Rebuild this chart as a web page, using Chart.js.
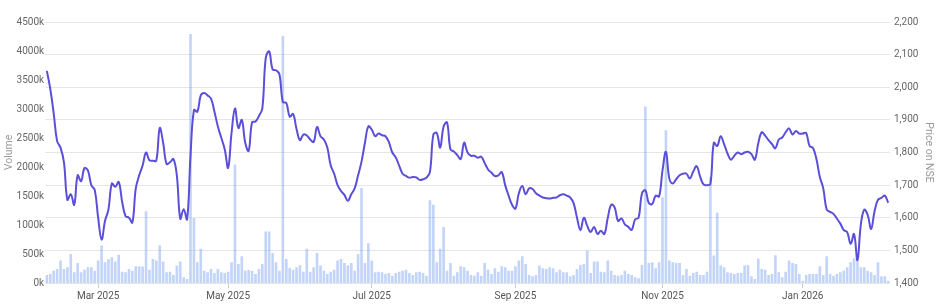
<!DOCTYPE html>
<html lang="en">
<head>
    <meta charset="UTF-8">
    <title>Price and Volume</title>
    <script src="https://cdn.jsdelivr.net/npm/chart.js"></script>
    <style>
        * {
            box-sizing: border-box;
            margin: 0;
            padding: 0;
        }

        body {
            background: #ffffff;
            width: 940px;
            height: 306px;
            overflow: hidden;
        }
    </style>
</head>
<body>

    <canvas id="grafico" width="940" height="306"></canvas>

    <script>
        // trading days: weekdays from start to end, minus exchange holidays, plus special sessions
        const startDate = '2025-02-07';
        const endDate = '2026-02-06';
        const holidays = ['2025-02-26', '2025-03-14', '2025-03-31', '2025-04-10', '2025-04-14', '2025-04-18',
            '2025-05-01', '2025-08-15', '2025-08-27', '2025-10-02', '2025-10-22', '2025-11-05',
            '2025-12-25', '2026-01-15', '2026-01-26'];
        const specialSessions = ['2026-02-01'];

        // months that get a label on the x axis
        const labelMonths = [0, 2, 4, 6, 8, 10];
        const monthNames = ['Jan', 'Feb', 'Mar', 'Apr', 'May', 'Jun', 'Jul', 'Aug', 'Sep', 'Oct', 'Nov', 'Dec'];

        // closing price (NSE), one per trading day
        const price = [
            2050, 1995, 1920, 1835, 1815, 1770, 1655, 1672, 1640, 1730,
            1712, 1752, 1745, 1700, 1685, 1600, 1533, 1590, 1625, 1705,
            1695, 1710, 1650, 1605, 1600, 1585, 1690, 1730, 1760, 1800,
            1776, 1775, 1775, 1875, 1830, 1765, 1770, 1780, 1730, 1597,
            1626, 1595, 1790, 1930, 1925, 1975, 1982, 1975, 1965, 1925,
            1880, 1845, 1810, 1753, 1860, 1935, 1875, 1900, 1830, 1805,
            1893, 1895, 1912, 1935, 2090, 2110, 2055, 2052, 2040, 1955,
            1952, 1910, 1918, 1872, 1838, 1855, 1852, 1840, 1832, 1878,
            1850, 1840, 1815, 1760, 1735, 1700, 1682, 1670, 1652, 1672,
            1690, 1730, 1772, 1830, 1880, 1870, 1850, 1858, 1853, 1850,
            1832, 1800, 1785, 1760, 1735, 1728, 1723, 1725, 1724, 1716,
            1718, 1723, 1740, 1855, 1860, 1815, 1880, 1892, 1810, 1803,
            1792, 1780, 1830, 1800, 1790, 1790, 1784, 1787, 1768, 1748,
            1738, 1728, 1730, 1740, 1700, 1668, 1640, 1628, 1675, 1697,
            1672, 1690, 1688, 1675, 1668, 1662, 1660, 1659, 1661, 1662,
            1669, 1672, 1668, 1662, 1645, 1600, 1562, 1600, 1575, 1556,
            1572, 1550, 1560, 1550, 1600, 1640, 1632, 1590, 1598, 1580,
            1572, 1563, 1595, 1600, 1675, 1684, 1645, 1642, 1668, 1665,
            1745, 1802, 1720, 1705, 1718, 1730, 1735, 1735, 1720, 1742,
            1758, 1726, 1702, 1700, 1703, 1830, 1820, 1850, 1826, 1797,
            1778, 1790, 1800, 1795, 1800, 1802, 1795, 1778, 1828, 1862,
            1852, 1838, 1826, 1813, 1840, 1846, 1862, 1874, 1855, 1866,
            1858, 1858, 1860, 1820, 1814, 1780, 1725, 1690, 1625, 1618,
            1612, 1597, 1582, 1562, 1556, 1520, 1550, 1470, 1580, 1625,
            1608, 1566, 1620, 1655, 1661, 1668, 1646
        ];

        // traded volume in thousands of shares
        const volumeK = [
            138, 156, 213, 242, 387, 242, 271, 502, 185, 346,
            185, 230, 271, 271, 213, 387, 646, 358, 415, 444,
            369, 485, 196, 185, 242, 213, 288, 288, 283, 1235,
            230, 415, 387, 646, 369, 185, 196, 138, 300, 369,
            98, 69, 4293, 1120, 358, 589, 213, 185, 242, 173,
            242, 185, 173, 196, 358, 2043, 329, 462, 213, 225,
            213, 156, 242, 329, 889, 889, 519, 358, 213, 4264,
            415, 260, 230, 271, 312, 196, 589, 196, 271, 519,
            300, 213, 156, 196, 230, 387, 415, 346, 300, 346,
            213, 502, 1639, 346, 687, 387, 185, 196, 185, 156,
            173, 127, 173, 196, 213, 230, 173, 138, 185, 196,
            173, 127, 1425, 1350, 358, 589, 964, 213, 346, 127,
            185, 288, 271, 213, 138, 127, 185, 127, 346, 230,
            156, 254, 196, 288, 271, 213, 213, 288, 387, 462,
            329, 138, 115, 138, 300, 254, 242, 271, 254, 185,
            230, 185, 185, 115, 138, 242, 312, 329, 560, 173,
            369, 369, 196, 185, 387, 213, 138, 127, 138, 213,
            156, 138, 98, 81, 312, 3041, 346, 358, 254, 358,
            1480, 2635, 387, 358, 346, 346, 138, 242, 127, 173,
            196, 138, 138, 196, 1829, 473, 1212, 300, 271, 185,
            173, 156, 173, 173, 300, 312, 115, 69, 420, 242,
            230, 138, 156, 480, 185, 98, 196, 387, 346, 329,
            156, 40, 138, 156, 156, 156, 288, 138, 462, 156,
            127, 156, 185, 213, 271, 358, 427, 387, 271, 271,
            213, 185, 138, 358, 115, 115, 40
        ];

        function buildDays() {
            let days = [];
            let d = new Date(startDate + 'T00:00:00Z');
            let end = new Date(endDate + 'T00:00:00Z');
            while (d <= end) {
                let iso = d.toISOString().slice(0, 10);
                let wd = d.getUTCDay();
                let open = wd !== 0 && wd !== 6 && !holidays.includes(iso);
                if (open || specialSessions.includes(iso)) days.push(iso);
                d.setUTCDate(d.getUTCDate() + 1);
            }
            return days;
        }

        const days = buildDays();

        // label only the first trading day of the chosen months
        const tickLabels = days.map((iso, i) => {
            let m = +iso.slice(5, 7) - 1;
            let prevM = i > 0 ? +days[i - 1].slice(5, 7) - 1 : m;
            if (i > 0 && m !== prevM && labelMonths.includes(m)) {
                return monthNames[m] + ' ' + iso.slice(0, 4);
            }
            return '';
        });

        Chart.defaults.font.family = "Roboto, 'Liberation Sans', sans-serif";
        Chart.defaults.font.size = 10;
        Chart.defaults.color = '#666';

        let ctx = document.getElementById('grafico').getContext('2d');

        let grafico = new Chart(ctx, {
            data: {
                labels: days,
                datasets: [
                    {
                        type: 'line',
                        label: 'Price',
                        data: price,
                        yAxisID: 'y1',
                        borderColor: '#5b4fd9',
                        borderWidth: 2,
                        pointRadius: 0,
                        tension: 0.4,
                        order: 1
                    },
                    {
                        type: 'bar',
                        label: 'Volume',
                        data: volumeK,
                        yAxisID: 'y',
                        backgroundColor: 'rgba(120, 160, 240, 0.45)',
                        borderWidth: 0,
                        categoryPercentage: 0.9,
                        barPercentage: 0.85,
                        order: 2
                    }
                ]
            },
            options: {
                responsive: false,
                animation: false,
                maintainAspectRatio: false,
                layout: {
                    padding: { top: 22, right: 0, bottom: 2, left: 0 }
                },
                plugins: {
                    legend: { display: false },
                    tooltip: { enabled: false }
                },
                scales: {
                    x: {
                        type: 'category',
                        offset: true,
                        border: { display: false },
                        grid: {
                            offset: false,
                            drawOnChartArea: false,
                            tickLength: 5,
                            color: c => tickLabels[c.index] ? '#cccccc' : 'rgba(0,0,0,0)'
                        },
                        ticks: {
                            autoSkip: false,
                            maxRotation: 0,
                            padding: 2,
                            color: '#555',
                            callback: (v, i) => tickLabels[i]
                        }
                    },
                    y: {
                        position: 'left',
                        min: 0,
                        max: 4500,
                        border: { display: false },
                        grid: { display: false, drawTicks: false },
                        ticks: {
                            stepSize: 500,
                            autoSkip: false,
                            padding: 1,
                            callback: v => v + 'k'
                        },
                        title: {
                            display: true,
                            text: 'Volume',
                            color: '#999',
                            font: { size: 10.5 },
                            padding: { top: 3, bottom: 0 }
                        }
                    },
                    y1: {
                        position: 'right',
                        min: 1400,
                        max: 2200,
                        border: { display: false },
                        grid: { color: '#e6e6e6', drawTicks: false },
                        ticks: {
                            stepSize: 100,
                            autoSkip: false,
                            padding: 4,
                            callback: v => v.toLocaleString('en-US')
                        },
                        title: {
                            display: true,
                            text: 'Price on NSE',
                            color: '#999',
                            font: { size: 10.5 },
                            padding: { top: 5, bottom: 0 }
                        }
                    }
                }
            }
        });
    </script>

</body>
</html>
